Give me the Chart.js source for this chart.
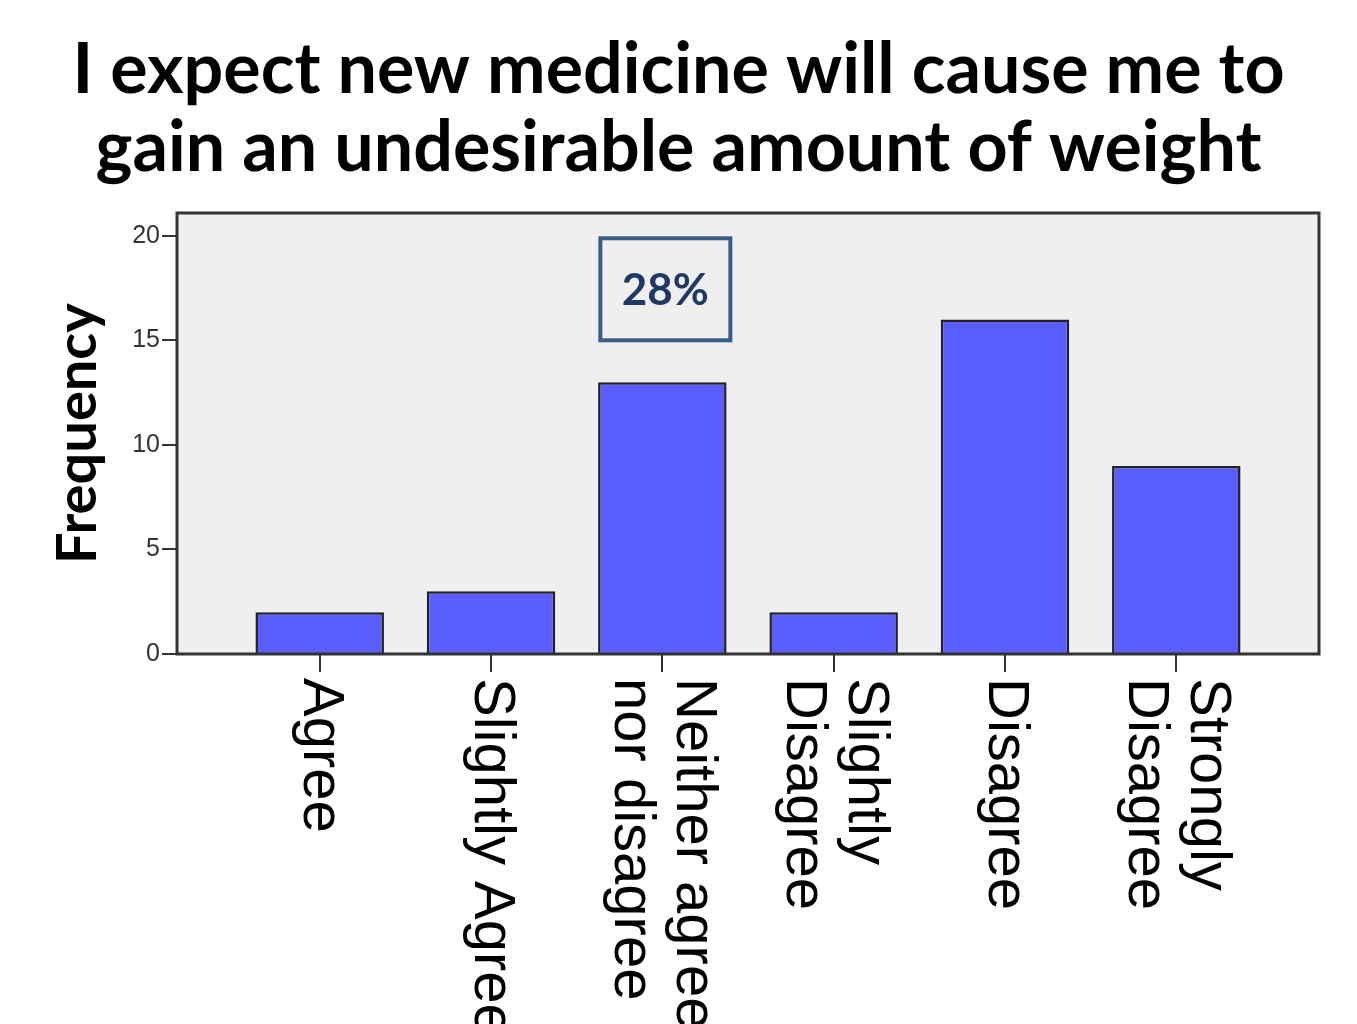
<!DOCTYPE html>
<html>
<head>
<meta charset="utf-8">
<script src="https://cdn.jsdelivr.net/npm/chart.js@4"></script>
<style>
  html, body { margin: 0; padding: 0; background: #fff; }
  canvas { display: block; }
</style>
</head>
<body>
<canvas id="chart" width="1357" height="1024"></canvas>
<script>
// Data
var categories = [
    ['Agree'],
    ['Slightly Agree'],
    ['Neither agree', 'nor disagree'],
    ['Slightly', 'Disagree'],
    ['Disagree'],
    ['Strongly', 'Disagree']
];
var frequencies = [2, 3, 13, 2, 16, 9];
var yTicks = [0, 5, 10, 15, 20];
var titleLines = ['I expect new medicine will cause me to', 'gain an undesirable amount of weight'];
var calloutText = '28%';
var calloutIndex = 2;
var calloutValue = 17.45;

// Plot frame + background
var framePlugin = {
    id: 'frame',
    beforeDatasetsDraw: function(chart) {
        var a = chart.chartArea, ctx = chart.ctx;
        ctx.save();
        ctx.fillStyle = '#efefef';
        ctx.fillRect(a.left, a.top, a.right - a.left, a.bottom - a.top);
        ctx.restore();
    },
    afterDatasetsDraw: function(chart) {
        var a = chart.chartArea, ctx = chart.ctx;
        ctx.save();
        ctx.strokeStyle = '#333';
        ctx.lineWidth = 3;
        ctx.strokeRect(a.left, a.top, a.right - a.left, a.bottom - a.top);
        ctx.restore();
    }
};

// Rotated (clockwise) category labels under each tick
var xLabelPlugin = {
    id: 'xLabels',
    afterDraw: function(chart) {
        var ctx = chart.ctx, xs = chart.scales.x, a = chart.chartArea;
        var lh = 62;
        ctx.save();
        ctx.fillStyle = '#000';
        ctx.font = '58px "Liberation Sans", Arial, sans-serif';
        ctx.textAlign = 'left';
        ctx.textBaseline = 'middle';
        categories.forEach(function(lines, i) {
            var x = xs.getPixelForValue(i);
            ctx.save();
            ctx.translate(x, a.bottom + 24);
            ctx.rotate(Math.PI / 2);
            lines.forEach(function(line, j) {
                ctx.fillText(line, 0, (j - (lines.length - 1) / 2) * lh);
            });
            ctx.restore();
        });
        ctx.restore();
    }
};

// "28%" callout box
var calloutPlugin = {
    id: 'callout',
    afterDatasetsDraw: function(chart) {
        var ctx = chart.ctx;
        var cx = chart.scales.x.getPixelForValue(calloutIndex) + 3;
        var cy = chart.scales.y.getPixelForValue(calloutValue);
        var w = 130, h = 102;
        ctx.save();
        ctx.strokeStyle = '#385d8a';
        ctx.lineWidth = 4;
        ctx.strokeRect(cx - w / 2, cy - h / 2, w, h);
        ctx.fillStyle = '#1f3864';
        ctx.font = 'bold 44px Lato, sans-serif';
        ctx.textAlign = 'center';
        ctx.textBaseline = 'middle';
        ctx.fillText(calloutText, cx, cy + 2);
        ctx.restore();
    }
};

new Chart(document.getElementById('chart'), {
    type: 'bar',
    data: {
        datasets: [{
            data: frequencies.map(function(v, i) { return { x: i, y: v }; }),
            backgroundColor: '#5a5eff',
            borderColor: '#222',
            borderWidth: 2.5,
            barPercentage: 0.75,
            categoryPercentage: 1
        }]
    },
    options: {
        responsive: false,
        animation: false,
        layout: { padding: 0 },
        plugins: {
            legend: { display: false },
            tooltip: { enabled: false },
            title: {
                display: true,
                text: titleLines,
                color: '#000',
                font: { family: 'Lato', weight: 'bold', size: 70, lineHeight: 78 / 70 },
                padding: { top: 31, bottom: 26 }
            }
        },
        scales: {
            x: {
                type: 'linear',
                offset: false,
                min: -0.833,
                max: categories.length - 1 + 0.833,
                afterBuildTicks: function(scale) {
                    scale.ticks = categories.map(function(c, i) { return { value: i }; });
                },
                ticks: { display: false },
                grid: {
                    offset: false,
                    drawOnChartArea: false,
                    drawTicks: true,
                    tickLength: 18,
                    color: '#333',
                    lineWidth: 2
                },
                border: { display: false },
                afterFit: function(scale) { scale.height = 1024 - 654; }
            },
            y: {
                min: 0,
                max: 21.1,
                afterBuildTicks: function(scale) {
                    scale.ticks = yTicks.map(function(v) { return { value: v }; });
                },
                ticks: {
                    color: '#333',
                    padding: 2,
                    font: { family: 'Liberation Sans', size: 25 }
                },
                grid: {
                    drawOnChartArea: false,
                    drawTicks: true,
                    tickLength: 15,
                    color: '#333',
                    lineWidth: 2
                },
                border: { display: false },
                title: {
                    display: true,
                    text: 'Frequency',
                    color: '#000',
                    font: { family: 'Lato', weight: 'bold', size: 56 },
                    padding: { top: 44, bottom: 0 }
                },
                afterFit: function(scale) { scale.width = 177; }
            },
            // empty right-hand margin so the title stays centred on the page
            margin: {
                position: 'right',
                display: true,
                min: 0,
                max: 1,
                ticks: { display: false },
                grid: { display: false },
                border: { display: false },
                afterFit: function(scale) { scale.width = 38; }
            }
        }
    },
    plugins: [framePlugin, calloutPlugin, xLabelPlugin]
});
</script>
</body>
</html>
